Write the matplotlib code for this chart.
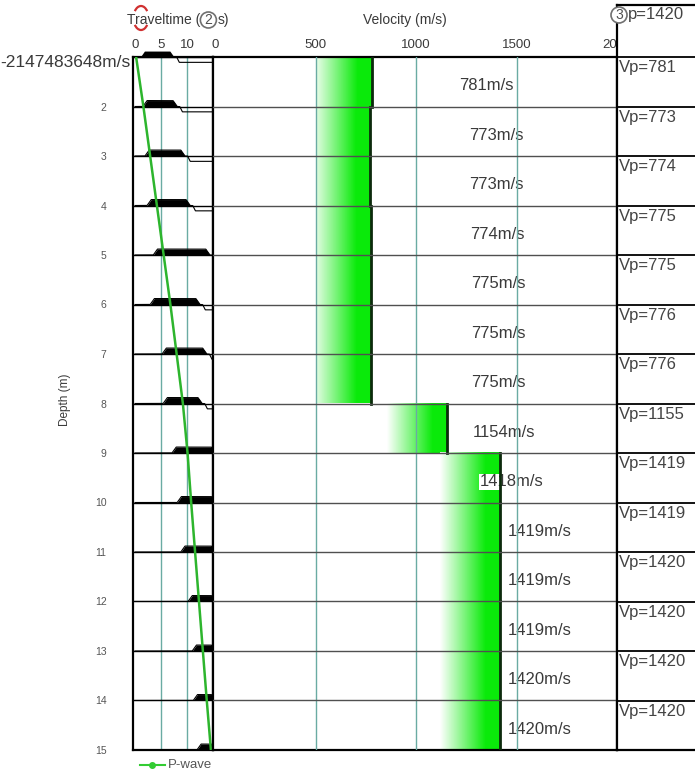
import numpy as np
import matplotlib
matplotlib.use('Agg')
import matplotlib.pyplot as plt
from matplotlib.lines import Line2D
from matplotlib.patches import Arc, Ellipse
from matplotlib.transforms import blended_transform_factory

plt.rcParams['font.family'] = ['Liberation Sans', 'DejaVu Sans', 'Noto Sans CJK SC']

# ---------------- data ----------------
depths = list(range(1, 16))
layer_tops = list(range(1, 15))
layer_velocity = [781, 773, 773, 774, 775, 775, 775, 1154, 1418, 1419, 1419, 1419, 1420, 1420]
vp_column = [781, 773, 774, 775, 775, 776, 776, 1155, 1419, 1419, 1420, 1420, 1420, 1420]
vp_header = 1420
p_traveltime = [0.2, 1.6, 2.9, 4.2, 5.5, 6.8, 8.0, 9.2, 10.1, 10.8, 11.55, 12.3, 13.05, 13.8, 14.6]
trace_start = [1.0, 1.5, 1.9, 2.3, 3.5, 2.9, 5.2, 5.4, 7.1, 8.1, 8.8, 10.2, 11.0, 11.2, 11.9]
trace_end = [7.5, 8.1, 9.6, 10.6, 14.4, 12.5, 13.8, 12.9, 15.5, 15.5, 15.5, 15.5, 15.5, 15.5, 15.5]
top_depth_label = '-2147483648m/s'
tt_ticks = [0, 5, 10]
vel_ticks = [0, 500, 1000, 1500, 2000]
vel_tick_labels = ['0', '500', '1000', '1500', '2000']

# ---------------- style / layout ----------------
label_x = [1215, 1265, 1265, 1270, 1275, 1275, 1275, 1280, 1315, 1455, 1455, 1455, 1455, 1455]
W, H = 695, 773
GRID = '#6aaba3'
GREEN_LINE = '#2db52d'
TXT = '#3a3a3a'


def fx(x):
    return x / W


def fy(y):
    return 1 - y / H


fig = plt.figure(figsize=(W / 100, H / 100), dpi=100)
ax_t = fig.add_axes([fx(133), fy(750), (213 - 133) / W, (750 - 57) / H])
ax_v = fig.add_axes([fx(213), fy(750), (617 - 213) / W, (750 - 57) / H])
ax_p = fig.add_axes([fx(617), fy(750), 1 - fx(617), (750 - 5) / H])

# ---------- traveltime panel ----------
ax_t.set_xlim(-0.4, 15)
ax_t.set_ylim(15, 1)
ax_t.xaxis.tick_top()
ax_t.set_xticks(tt_ticks)
ax_t.set_xticklabels([str(t) for t in tt_ticks])
ax_t.tick_params(axis='x', length=0, pad=4, labelsize=9.5, labelcolor=TXT)
ax_t.set_yticks(depths)
ax_t.set_yticklabels([''] + [str(d) for d in depths[1:]])
ax_t.tick_params(axis='y', length=0, pad=19, labelsize=7.5, labelcolor='#555555')
ax_t.annotate(top_depth_label, xy=(0, depths[0]),
              xycoords=blended_transform_factory(ax_t.transAxes, ax_t.transData),
              xytext=(-2, -4), textcoords='offset points', ha='right', va='center',
              fontsize=12.5, color=TXT, annotation_clip=False)
for t in tt_ticks[1:]:
    ax_t.axvline(t, color=GRID, lw=1, zorder=1)
for d in depths:
    ax_t.axhline(d, color='black', lw=1, zorder=2)
for s in ax_t.spines.values():
    s.set_linewidth(1.6)
    s.set_color('black')

t = np.linspace(0, 15, 1500)
amp = 0.12
for d, ts, te in zip(depths, trace_start, trace_end):
    up = np.clip((t - ts) / 0.8, 0, 1) * np.clip((te - t) / 0.8, 0, 1)
    down = np.clip((t - (te + 0.5)) / 0.5, 0, 1)
    y = d - amp * up + amp * 0.9 * down
    ax_t.fill_between(t, d, d - amp * up, color='black', lw=0, zorder=3, clip_on=False)
    ax_t.plot(t, y, color='black', lw=0.8, zorder=3)

ax_t.plot(p_traveltime, depths, color=GREEN_LINE, lw=1.8, zorder=5)

# ---------- velocity panel ----------
ax_v.set_xlim(-10, 2000)
ax_v.set_ylim(15, 1)
ax_v.xaxis.tick_top()
ax_v.set_xticks(vel_ticks)
ax_v.set_xticklabels(vel_tick_labels)
ax_v.tick_params(axis='x', length=0, pad=4, labelsize=9.5, labelcolor=TXT)
ax_v.set_yticks([])
for s in ax_v.spines.values():
    s.set_linewidth(1.6)
    s.set_color('black')
for v in vel_ticks[1:4]:
    ax_v.axvline(v, color=GRID, lw=1, zorder=4)
for d in depths[1:-1]:
    ax_v.axhline(d, color='#505050', lw=1, zorder=4)

green = np.array([0.04, 0.92, 0.04])
width = 300.0
for top, v, lx, in zip(layer_tops, layer_velocity, label_x):
    left = max(v - width, 500)
    xs = np.linspace(left, v, 200)
    f = np.clip((xs - (v - width)) / width / 0.75, 0, 1)
    rgb = (1 - f)[:, None] * np.ones(3) + f[:, None] * green
    img = rgb[None, :, :]
    ax_v.imshow(img, extent=[left, v, top + 1, top], aspect='auto',
                interpolation='bilinear', zorder=1)
    ax_v.plot([v, v], [top, top + 1], color='#0c2a0c', lw=2, zorder=3)
    ax_v.text(lx, top + 0.58, f'{v}m/s', fontsize=12, color=TXT, va='center', ha='left',
              zorder=2.5, bbox=dict(facecolor='white', edgecolor='none', pad=0.5))
ax_v.set_xlim(-10, 2000)
ax_v.set_ylim(15, 1)

# ---------- Vp column ----------
ax_p.set_xlim(0, 1)
ax_p.set_ylim(15, 1 - 52 / 49.5)
ax_p.set_xticks([])
ax_p.set_yticks([])
ax_p.set_facecolor('white')
ax_p.spines['right'].set_visible(False)
for k in ['left', 'top', 'bottom']:
    ax_p.spines[k].set_linewidth(1.6)
    ax_p.spines[k].set_color('black')
for d in depths[:-1]:
    ax_p.axhline(d, color='black', lw=1.3)
tr = blended_transform_factory(ax_p.transAxes, ax_p.transData)
for top, vp in zip(layer_tops, vp_column):
    ax_p.text(0.02, top + 0.22, f'Vp={vp}', transform=tr, fontsize=12, color='#444444',
              va='center', ha='left')


def circled(xc, yc, s):
    fig.add_artist(Ellipse((fx(xc), fy(yc)), 16 / W, 16 / H, facecolor='white',
                           edgecolor='#707070', lw=1.2, transform=fig.transFigure, zorder=10))
    fig.text(fx(xc), fy(yc), s, fontsize=10, color='#505050', ha='center', va='center',
             zorder=11)


circled(619, 15, '3')
fig.text(fx(628), fy(15), f'p={vp_header}', fontsize=12, color='#444444',
         va='center', ha='left')

# ---------- titles / labels ----------
fig.canvas.draw()
r = fig.canvas.get_renderer()
title = fig.text(fx(127), fy(20), 'Traveltime (', fontsize=10, color=TXT,
                 va='center', ha='left')
bb = title.get_window_extent(r)
circled(bb.x1 + 8, 20, '2')
fig.text(fx(bb.x1 + 17), fy(20), 's)', fontsize=10, color=TXT, va='center', ha='left')

fig.add_artist(Arc((fx(141), fy(18)), 15 / W, 24 / H, theta1=45, theta2=135,
                   color='#d03030', lw=1.6, transform=fig.transFigure))
fig.add_artist(Arc((fx(141), fy(18)), 15 / W, 24 / H, theta1=225, theta2=315,
                   color='#d03030', lw=1.6, transform=fig.transFigure))
fig.text(fx(405), fy(20), 'Velocity (m/s)', fontsize=10, color=TXT, va='center', ha='center')
fig.text(fx(65), fy(400), 'Depth (m)', fontsize=8.5, color=TXT, va='center', ha='center',
         rotation=90)

# legend
fig.add_artist(Line2D([fx(140), fx(165)], [fy(765), fy(765)], color='#33cc33', lw=1.5,
                      transform=fig.transFigure))
fig.add_artist(Line2D([fx(152)], [fy(765)], color='#33cc33', marker='o', markersize=4,
                      transform=fig.transFigure))
fig.text(fx(168), fy(765), 'P-wave', fontsize=9.5, color='#555555', va='center', ha='left')

fig.savefig('out.png', dpi=100)
